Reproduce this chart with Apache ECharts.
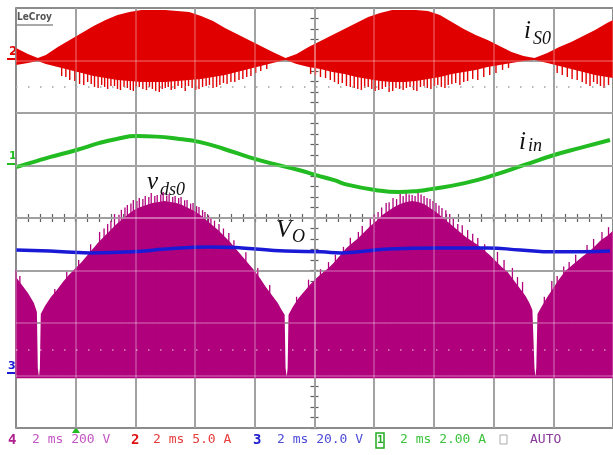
<!DOCTYPE html>
<html>
<head>
<meta charset="utf-8">
<script src="https://cdn.jsdelivr.net/npm/echarts@6/dist/echarts.min.js"></script>
<style>
  html, body { margin: 0; padding: 0; background: #fff; }
  #chart { width: 613px; height: 455px; }
</style>
</head>
<body>
<div id="chart"></div>
<script>
// time axis in ms (2 ms/div), 0 = screen centre
// ch2 : i_S0 (5.0 A/div) switching current, drawn as an envelope band
const tRed = [-10, -9.6, -9.27, -9.0, -8.6, -8.2, -7.8, -7.4, -7.0, -6.6, -6.2, -5.8, -5.4, -5.0, -4.6, -4.2, -3.8, -3.4, -3.0, -2.6, -2.2, -1.8, -1.4, -0.97, -0.6, -0.2, 0.2, 0.6, 1.0, 1.4, 1.8, 2.2, 2.6, 3.0, 3.4, 3.8, 4.2, 4.6, 5.0, 5.4, 5.8, 6.2, 6.6, 7.0, 7.37, 7.8, 8.2, 8.6, 9.0, 9.4, 9.8, 10]
const iS0Upper = [1.19, 0.62, 0.24, 0.52, 1.29, 1.95, 2.62, 3.28, 3.86, 4.33, 4.62, 4.81, 4.81, 4.81, 4.71, 4.62, 4.24, 3.76, 3.09, 2.52, 1.95, 1.38, 0.81, 0.24, 0.62, 1.29, 1.86, 2.43, 3.0, 3.57, 4.14, 4.52, 4.81, 4.81, 4.81, 4.71, 4.33, 3.67, 3.0, 2.43, 1.95, 1.38, 0.81, 0.43, 0.24, 0.71, 1.29, 1.76, 2.33, 2.90, 3.57, 3.86]
const iS0Lower = [-0.43, -0.24, -0.05, -0.33, -0.62, -0.90, -1.19, -1.48, -1.67, -1.86, -1.95, -2.05, -2.05, -2.05, -1.95, -1.86, -1.76, -1.57, -1.38, -1.10, -0.81, -0.52, -0.24, 0.05, -0.33, -0.62, -0.81, -1.10, -1.29, -1.57, -1.76, -1.95, -2.05, -2.05, -1.95, -1.76, -1.57, -1.29, -1.10, -0.90, -0.62, -0.43, -0.24, -0.05, 0.05, -0.24, -0.52, -0.81, -1.10, -1.38, -1.57, -1.67]
const iS0Spikes = [
  [-8.47, -1.48], [-8.2, -1.86], [-7.87, -2.24], [-7.6, -2.05], [-7.37, -2.52], [-7.13, -2.33], [-6.93, -2.71], [-6.7, -2.43], [-6.5, -2.81], [-6.27, -2.62],
  [-6.07, -2.90], [-5.87, -2.52], [-5.63, -2.81], [-5.43, -2.71], [-5.2, -3.0], [-5.0, -2.62], [-4.8, -2.81], [-4.57, -2.43], [-4.33, -2.90], [-4.1, -2.62],
  [-3.87, -2.71], [-3.63, -2.43], [-3.4, -2.62], [-3.17, -2.33], [-2.93, -2.24], [-2.67, -2.05], [-2.4, -1.76], [-2.13, -1.48], [-1.8, -1.0],
  [-0.13, -1.29], [0.2, -1.57], [0.53, -1.86], [0.8, -2.24], [1.07, -2.43], [1.33, -2.62], [1.57, -2.81], [1.8, -2.52], [2.03, -2.90], [2.27, -2.71],
  [2.5, -3.0], [2.73, -2.62], [2.97, -2.81], [3.2, -2.52], [3.43, -2.90], [3.67, -2.43], [3.9, -2.71], [4.13, -2.33], [4.37, -2.62], [4.6, -2.24],
  [4.87, -2.33], [5.13, -1.95], [5.47, -1.86], [5.87, -1.38], [6.3, -0.90],
  [8.3, -1.38], [8.63, -1.76], [8.97, -2.05], [9.23, -2.43], [9.47, -2.24], [9.7, -2.62],
  [-8.33, -1.57], [-8.03, -1.95], [-7.73, -2.33], [-7.48, -2.24], [-7.25, -2.62], [-7.03, -2.52], [-6.82, -2.43], [-6.6, -2.71], [-6.38, -2.52], [-6.17, -2.81],
  [-5.97, -2.62], [-5.75, -2.71], [-5.53, -2.52], [-5.32, -2.90], [-5.1, -2.71], [-4.9, -2.52], [-4.68, -2.71], [-4.45, -2.62], [-4.22, -2.43], [-3.98, -2.81],
  [-3.75, -2.52], [-3.52, -2.33], [-3.28, -2.52], [-3.05, -2.14], [-2.8, -2.05], [-2.53, -1.86], [-2.27, -1.57], [-1.97, -1.19], [-1.6, -0.81],
  [0.03, -1.38], [0.37, -1.67], [0.67, -2.05], [0.93, -2.14], [1.2, -2.52], [1.45, -2.71], [1.68, -2.62], [1.92, -2.71], [2.15, -2.81], [2.38, -2.52],
  [2.62, -2.90], [2.85, -2.71], [3.08, -2.62], [3.32, -2.81], [3.55, -2.52], [3.78, -2.62], [4.02, -2.43], [4.25, -2.52], [4.48, -2.33], [4.73, -2.14],
  [5.0, -2.05], [5.3, -1.76], [5.67, -1.57], [6.08, -1.19], [6.5, -0.71],
  [8.13, -1.19], [8.47, -1.57], [8.8, -1.86], [9.1, -2.24], [9.35, -2.05], [9.58, -2.43], [9.85, -2.33]
]

// ch4 : v_ds0 (200 V/div) upper envelope, filled down to the floor
const vDs0 = [
  [-10.0, 375], [-9.8, 345], [-9.6, 314], [-9.4, 276], [-9.3, 242], [-9.27, 29], [-9.23, -6], [-9.2, 29], [-9.17, 234],
  [-9.03, 265], [-8.83, 299], [-8.63, 326], [-8.43, 356], [-8.23, 383], [-8.03, 406], [-7.83, 429], [-7.63, 455], [-7.43, 482],
  [-7.23, 509], [-7.03, 531], [-6.83, 554], [-6.63, 577], [-6.43, 596], [-6.23, 615], [-6.03, 631], [-5.83, 642], [-5.63, 650],
  [-5.43, 657], [-5.23, 661], [-5.03, 665], [-4.83, 661], [-4.63, 657], [-4.43, 650], [-4.23, 638], [-4.03, 627], [-3.83, 611],
  [-3.63, 592], [-3.43, 573], [-3.23, 554], [-3.03, 531], [-2.83, 509], [-2.63, 482], [-2.43, 455], [-2.23, 429], [-2.03, 402],
  [-1.83, 371], [-1.63, 337], [-1.43, 307], [-1.23, 276], [-1.1, 250], [-1.0, 231], [-0.97, 29], [-0.93, -6], [-0.9, 29],
  [-0.87, 231], [-0.73, 261], [-0.53, 295], [-0.33, 322], [-0.13, 349], [0.07, 371], [0.27, 391], [0.47, 410], [0.67, 432],
  [0.87, 459], [1.07, 486], [1.27, 505], [1.47, 524], [1.67, 547], [1.87, 570], [2.07, 589], [2.27, 611], [2.47, 627],
  [2.67, 642], [2.87, 653], [3.07, 661], [3.27, 665], [3.47, 661], [3.67, 653], [3.87, 638], [4.07, 623], [4.27, 604],
  [4.47, 585], [4.67, 566], [4.87, 547], [5.07, 528], [5.27, 512], [5.47, 497], [5.67, 478], [5.87, 459], [6.07, 436],
  [6.27, 413], [6.47, 394], [6.67, 364], [6.87, 333], [7.07, 303], [7.2, 276], [7.3, 250], [7.37, 29], [7.4, -6], [7.43, 29],
  [7.47, 234], [7.6, 261], [7.8, 299], [8.0, 333], [8.2, 368], [8.4, 398], [8.6, 417], [8.8, 436], [9.0, 455], [9.2, 471],
  [9.4, 493], [9.6, 516], [9.8, 531], [10.0, 551]
]
const vDs0Floor = -10
const vDs0Spikes = [
  [-10.0, 402], [-9.87, 379], [-7.2, 547], [-6.93, 577], [-6.7, 615], [-6.47, 631], [-6.27, 650], [-6.07, 669], [-5.87, 676],
  [-5.67, 684], [-5.47, 695], [-5.27, 688], [-5.07, 699], [-4.87, 691], [-4.67, 684], [-4.47, 680], [-4.27, 669], [-4.07, 657],
  [-3.87, 642], [-3.67, 623], [-3.47, 600], [-3.2, 577], [-2.87, 543],
  [0.47, 432], [0.97, 490], [1.47, 547], [1.87, 600], [2.13, 623], [2.4, 657], [2.63, 676], [2.87, 691], [3.07, 695],
  [3.27, 688], [3.47, 699], [3.67, 684], [3.87, 672], [4.07, 657], [4.27, 638], [4.53, 615], [4.8, 577], [5.13, 554],
  [5.47, 524], [6.13, 471], [6.63, 410], [6.97, 356],
  [8.13, 379], [8.53, 432], [9.13, 497], [9.63, 547],
  [-8.7, 330], [-8.3, 395], [-7.9, 440], [-7.5, 500], [-7.05, 560], [-6.82, 590], [-6.55, 612], [-6.35, 640], [-6.15, 655],
  [-5.95, 665], [-5.75, 672], [-5.55, 680], [-5.35, 684], [-5.15, 690], [-4.95, 686], [-4.75, 680], [-4.55, 676], [-4.35, 668],
  [-4.15, 655], [-3.95, 645], [-3.75, 630], [-3.55, 610], [-3.35, 590], [-3.05, 560], [-2.7, 515], [-2.3, 470], [-1.9, 410], [-1.5, 345],
  [-0.6, 300], [-0.2, 365], [0.2, 405], [0.7, 460], [1.2, 525], [1.6, 570], [2.0, 612], [2.25, 640], [2.5, 660], [2.75, 672],
  [2.97, 684], [3.17, 690], [3.37, 684], [3.57, 690], [3.77, 676], [3.97, 665], [4.17, 648], [4.4, 630], [4.65, 598], [4.95, 572],
  [5.3, 540], [5.7, 500], [6.35, 440], [6.8, 375],
  [7.7, 300], [7.95, 360], [8.35, 415], [8.75, 460], [9.35, 520], [9.85, 565]
]

// ch1 : i_in (2.00 A/div)
const iIn = [
  [-10, -0.06], [-9.43, 0.13], [-8.87, 0.32], [-7.97, 0.59], [-7.2, 0.86], [-6.63, 1.01], [-5.97, 1.12], [-5.3, 1.10],
  [-4.53, 1.01], [-3.87, 0.90], [-3.03, 0.63], [-2.2, 0.32], [-1.37, 0.06], [-0.53, -0.17], [0.03, -0.36], [0.63, -0.55],
  [1.13, -0.74], [2.03, -0.93], [2.8, -1.01], [3.47, -0.97], [3.9, -0.90], [5.03, -0.67], [6.03, -0.36], [7.03, 0.02],
  [8.03, 0.40], [8.9, 0.67], [9.9, 0.97]
]

// ch3 : V_O (20.0 V/div)
const vO = [
  [-10, 47.8], [-8.87, 47.4], [-7.53, 46.7], [-6.1, 47.1], [-4.97, 48.2], [-3.53, 49.0], [-2.43, 48.6], [-0.97, 47.4],
  [0.23, 47.1], [0.9, 46.7], [2.47, 48.2], [4.13, 48.6], [5.8, 48.6], [6.9, 47.8], [8.03, 47.1], [9.03, 47.1], [9.9, 47.4]
]

// scope channel settings: units per division and zero level in divisions from centre
const channels = {
  1: { scale: 2, offset: 1 },
  2: { scale: 5, offset: 3 },
  3: { scale: 20, offset: -3 },
  4: { scale: 200, offset: -3 }
}
const toDiv = (ch, v) => channels[ch].offset + v / channels[ch].scale

const RED = '#e00000'
const MAGENTA = '#b0007c'
const GREEN = '#22bb22'
const BLUE = '#1a1ad6'
const GRID = '#606060'
const GRID_LIGHT = 'rgba(255,255,255,0.3)'

const bandSeries = (ch, ts, upper, lower, color) => ({
  type: 'custom',
  silent: true,
  data: [[0, 0]],
  renderItem: (params, api) => {
    const top = ts.map((t, k) => api.coord([t, toDiv(ch, upper[k])]))
    const bottom = ts.map((t, k) => api.coord([t, toDiv(ch, Array.isArray(lower) ? lower[k] : lower)])).reverse()
    return { type: 'polygon', shape: { points: top.concat(bottom) }, style: { fill: color } }
  }
})

const spikeSeries = (ch, spikes, color, width) => ({
  type: 'custom',
  silent: true,
  data: spikes,
  renderItem: (params, api) => {
    const tip = api.coord([api.value(0), toDiv(ch, api.value(1))])
    const base = api.coord([api.value(0), channels[ch].offset])
    return {
      type: 'line',
      shape: { x1: tip[0], y1: tip[1], x2: base[0], y2: base[1] },
      style: { stroke: color, lineWidth: width }
    }
  }
})

const axes = (isX) => {
  const common = {
    type: 'value',
    min: isX ? -10 : -4,
    max: isX ? 10 : 4,
    interval: isX ? 2 : 1,
    axisLabel: { show: false }
  }
  const dark = { color: GRID, width: 1.5 }
  const ticks = {
    axisTick: { show: true, length: 4, lineStyle: { color: GRID, width: 1.2 } },
    minorTick: { show: true, splitNumber: 5, length: 4, lineStyle: { color: GRID, width: 1.2 } }
  }
  return [
    { ...common, ...ticks, position: isX ? 'bottom' : 'left',
      axisLine: { onZero: true, onZeroAxisIndex: 0, lineStyle: dark },
      splitLine: { show: true, lineStyle: dark } },
    { ...common, ...ticks, position: isX ? 'top' : 'right',
      axisLine: { onZero: true, onZeroAxisIndex: 0, lineStyle: dark },
      splitLine: { show: false } },
    { ...common, position: isX ? 'bottom' : 'left', z: 10,
      axisTick: { show: false },
      axisLine: { onZero: true, onZeroAxisIndex: 0, lineStyle: { color: GRID_LIGHT, width: 1.5 } },
      splitLine: { show: true, lineStyle: { color: GRID_LIGHT, width: 1.5 } } }
  ]
}

const txt = (x, y, text, font, fill, extra) => ({
  type: 'text', x, y, silent: true,
  style: Object.assign({ text, font, fill, verticalAlign: 'middle', textVerticalAlign: 'middle' }, extra || {})
})
const MONO = '13px "DejaVu Sans Mono"'
const SERIF_I = (size) => 'italic ' + size + 'px "Liberation Serif"'

const chart = echarts.init(document.getElementById('chart'))
chart.setOption({
  animation: false,
  backgroundColor: '#fff',
  grid: { left: 16, top: 8, width: 600, height: 420, show: true, borderColor: GRID, borderWidth: 1.5 },
  xAxis: axes(true),
  yAxis: axes(false),
  series: [
    bandSeries(2, tRed, iS0Upper, iS0Lower, RED),
    spikeSeries(2, iS0Spikes, RED, 1.4),
    bandSeries(4, vDs0.map(p => p[0]), vDs0.map(p => p[1]), vDs0Floor, MAGENTA),
    spikeSeries(4, vDs0Spikes, MAGENTA, 1.3),
    {
      type: 'line',
      data: iIn.map(p => [p[0], toDiv(1, p[1])]),
      showSymbol: false,
      smooth: true,
      lineStyle: { color: GREEN, width: 4 }
    },
    {
      type: 'line',
      data: vO.map(p => [p[0], toDiv(3, p[1])]),
      showSymbol: false,
      smooth: true,
      lineStyle: { color: BLUE, width: 3.5 },
      markLine: {
        silent: true,
        symbol: 'none',
        label: { show: false },
        data: [
          { yAxis: 2.5, lineStyle: { color: '#a0a0a0', width: 1.5, type: [1.5, 10.5] } },
          { yAxis: -2.5, lineStyle: { color: 'rgba(255,255,255,0.55)', width: 1.5, type: [1.5, 10.5] } }
        ]
      }
    }
  ],
  graphic: [
    txt(17, 17, 'LeCroy', 'bold 10px "DejaVu Sans Condensed", "DejaVu Sans"', '#555'),
    { type: 'line', silent: true, shape: { x1: 17, y1: 25, x2: 53, y2: 25 }, style: { stroke: '#555', lineWidth: 1 } },

    // channel zero markers
    txt(9, 52, '2', 'bold 12px "DejaVu Sans"', RED),
    { type: 'line', silent: true, shape: { x1: 7, y1: 59, x2: 16, y2: 59 }, style: { stroke: RED, lineWidth: 2 } },
    txt(9, 156, '1', 'bold 11px "DejaVu Sans"', GREEN),
    { type: 'line', silent: true, shape: { x1: 7, y1: 164, x2: 15, y2: 164 }, style: { stroke: GREEN, lineWidth: 2 } },
    txt(8, 366, '3', 'bold 11px "DejaVu Sans"', BLUE),
    { type: 'line', silent: true, shape: { x1: 7, y1: 373, x2: 15, y2: 373 }, style: { stroke: BLUE, lineWidth: 2 } },

    // trigger marker
    { type: 'polygon', silent: true, shape: { points: [[72, 433], [80, 433], [76, 427]] }, style: { fill: GREEN } },

    // trace labels
    txt(524, 31, 'i', SERIF_I(25), '#111'),
    txt(533, 39, 'S0', SERIF_I(18), '#111'),
    txt(519, 142, 'i', SERIF_I(25), '#111'),
    txt(528, 146, 'in', SERIF_I(18), '#111'),
    txt(147, 182, 'v', SERIF_I(25), '#111'),
    txt(160, 190, 'ds0', SERIF_I(18), '#111'),
    txt(276, 230, 'V', SERIF_I(25), '#111'),
    txt(292, 237, 'O', SERIF_I(18), '#111'),

    // status line
    txt(8, 440, '4', 'bold 14px "DejaVu Sans Mono"', '#b0208f'),
    txt(32, 440, '2 ms 200 V', MONO, '#c455c4'),
    txt(131, 440, '2', 'bold 14px "DejaVu Sans Mono"', '#e01010'),
    txt(153, 440, '2 ms 5.0 A', MONO, '#e83c3c'),
    txt(253, 440, '3', 'bold 14px "DejaVu Sans Mono"', '#2020d0'),
    txt(277, 440, '2 ms 20.0 V', MONO, '#4c4cd8'),
    { type: 'rect', silent: true, shape: { x: 376, y: 433, width: 8, height: 15 }, style: { fill: 'none', stroke: '#22aa22', lineWidth: 1.5 } },
    txt(377, 440, '1', 'bold 11px "DejaVu Sans Mono"', '#22aa22'),
    txt(400, 440, '2 ms 2.00 A', MONO, '#3cc43c'),
    { type: 'rect', silent: true, shape: { x: 500, y: 435, width: 7, height: 9 }, style: { fill: 'none', stroke: '#aaa', lineWidth: 1 } },
    txt(530, 440, 'AUTO', MONO, '#8a3a9a')
  ]
})
</script>
</body>
</html>
